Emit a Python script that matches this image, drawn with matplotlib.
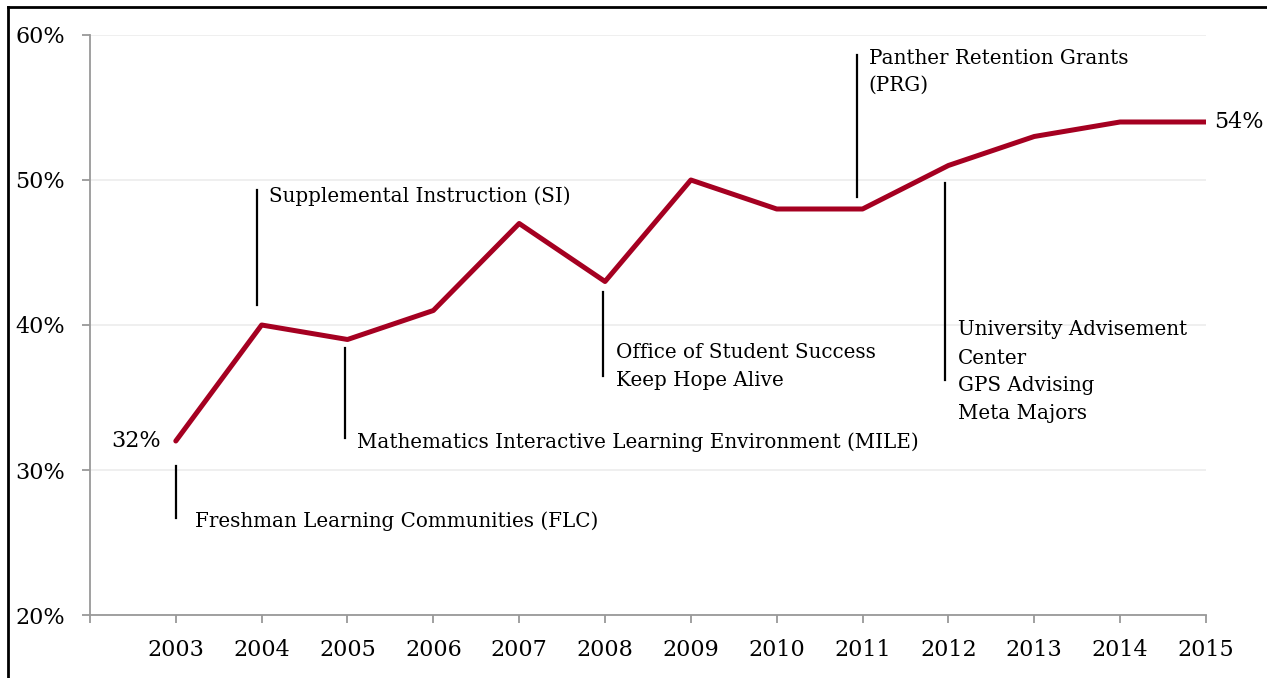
import matplotlib
matplotlib.use('Agg')
from matplotlib import pyplot as plt
from matplotlib.lines import Line2D

years = [2003, 2004, 2005, 2006, 2007, 2008, 2009, 2010, 2011, 2012, 2013, 2014, 2015]
rate = [32, 40, 39, 41, 47, 43, 50, 48, 48, 51, 53, 54, 54]

# annotation: x of marker line, y range of marker line, text lines with their y
notes = [
    (2003.0, (30.3, 26.7), ['Freshman Learning Communities (FLC)'], [26.5]),
    (2003.95, (49.3, 41.4), ['Supplemental Instruction (SI)'], [48.9]),
    (2004.97, (38.4, 32.2), ['Mathematics Interactive Learning Environment (MILE)'], [31.9]),
    (2007.98, (42.3, 36.5), ['Office of Student Success', 'Keep Hope Alive'], [38.1, 36.2]),
    (2010.93, (58.6, 48.8), ['Panther Retention Grants', '(PRG)'], [58.4, 56.5]),
    (2011.96, (49.8, 36.2), ['University Advisement', 'Center', 'GPS Advising', 'Meta Majors'],
     [39.7, 37.7, 35.8, 33.9]),
]
text_gap = [0.22, 0.13, 0.14, 0.15, 0.14, 0.15]

plt.rcParams['font.family'] = ['DejaVu Serif']

fig = plt.figure(figsize=(12.67, 6.78), dpi=100)
ax = fig.add_axes([0.0710, 0.0929, 0.8808, 0.8555])

ax.plot(years, rate, color='#A50021', lw=3.6, solid_capstyle='round', zorder=3)

ax.set_xlim(2002, 2015)
ax.set_ylim(20, 60)
ax.set_yticks([20, 30, 40, 50, 60])
ax.set_yticklabels(['20%', '30%', '40%', '50%', '60%'])
ax.set_xticks([2002] + years)
ax.set_xticklabels([''] + [str(y) for y in years])
ax.grid(axis='y', color='#ececec', lw=1.2, zorder=0)

for s in ['top', 'right']:
    ax.spines[s].set_visible(False)
for s in ['left', 'bottom']:
    ax.spines[s].set_color('#999999')
    ax.spines[s].set_linewidth(1.3)
ax.tick_params(axis='both', colors='#999999', width=1.3, length=6, labelcolor='black', labelsize=16)
ax.tick_params(axis='x', pad=11)
ax.tick_params(axis='y', pad=12)

for (x, (y0, y1), lines, ys), gap in zip(notes, text_gap):
    ax.plot([x, x], [y0, y1], color='black', lw=1.6, zorder=2)
    for txt, ty in zip(lines, ys):
        ax.text(x + gap, ty, txt, fontsize=14.3, va='center', ha='left')

ax.text(years[0] - 0.17, rate[0], '32%', fontsize=16, va='center', ha='right')
ax.text(years[-1] + 0.09, rate[-1], '54%', fontsize=16, va='center', ha='left', clip_on=False)

# frame lines on the top and left edge of the picture
fig.add_artist(Line2D([0.0065, 0.0065], [0, 0.990], color='black', lw=2, transform=fig.transFigure))
fig.add_artist(Line2D([0.0065, 1], [0.990, 0.990], color='black', lw=2, transform=fig.transFigure))

fig.savefig('out.png', dpi=100)
